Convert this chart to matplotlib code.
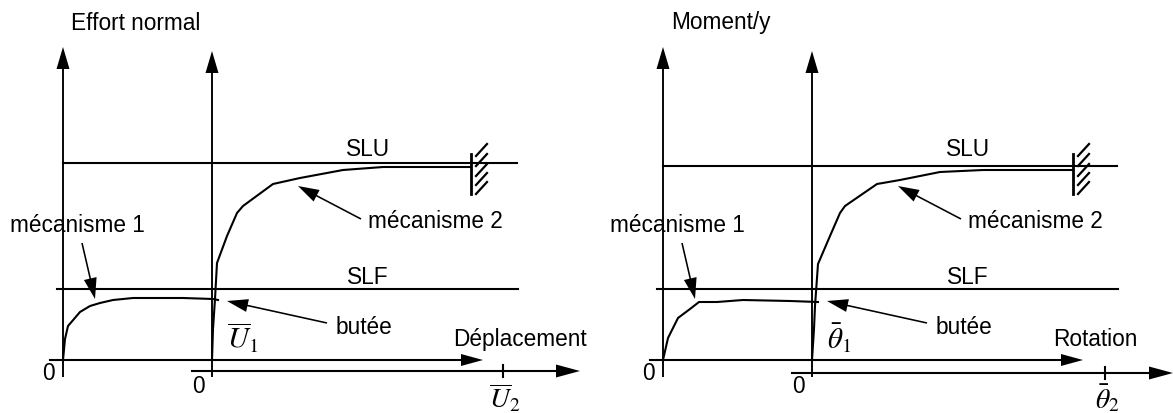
import matplotlib.pyplot as plt

plt.rcParams['font.family'] = ['Liberation Sans', 'DejaVu Sans']
plt.rcParams['mathtext.fontset'] = 'stix'

# curves (pixel units, y pointing down)
mec1_l_x = [63, 65, 68, 80, 90, 100, 113, 133, 183, 213, 218]
mec1_l_y = [361, 340, 327, 313, 307, 304, 301, 299, 299, 300, 301]
mec2_l_x = [212, 213, 215, 217, 227, 237, 243, 273, 300, 343, 383, 471]
mec2_l_y = [361, 330, 300, 264, 237, 214, 207, 185, 179, 171, 168, 168]

mec1_r_x = [663, 668, 678, 690, 699, 717, 743, 790, 818]
mec1_r_y = [361, 339, 319, 310, 303, 303, 301, 302, 303]
mec2_r_x = [812, 814, 815, 818, 830, 840, 845, 877, 900, 940, 983, 1073]
mec2_r_y = [361, 330, 307, 265, 237, 214, 207, 185, 181, 173, 171, 171]

y_titles = ['Effort normal', 'Moment/y']
x_titles = ['Déplacement', 'Rotation']
lab1 = [r'$\overline{U}_1$', r'$\bar{\theta}_1$']
lab2 = [r'$\overline{U}_2$', r'$\bar{\theta}_2$']

fig = plt.figure(figsize=(11.73, 4.14), dpi=100)
ax = fig.add_axes([0, 0, 1, 1])
ax.set_xlim(0, 1173)
ax.set_ylim(414, 0)
ax.axis('off')

LW = 1.5
FS = 16.3


def arrow(x1, y1, x2, y2, hw=13, hl=22, w=1.9):
    ax.arrow(x1, y1, x2 - x1, y2 - y1, width=w, head_width=hw, head_length=hl,
             length_includes_head=True, fc='black', ec='none')


def panel(i, dx, slu_y, ax2_y, x1_end, x2_end, tick_x, wall_x, m1, m2):
    # axes
    arrow(63 + dx, 378, 63 + dx, 48)
    arrow(212 + dx, 378, 212 + dx, 52)
    ax.plot([50 + dx, x1_end - 20], [361, 361], color='black', lw=LW)
    arrow(x1_end - 22, 361, x1_end, 361, hw=12)
    ax.plot([192 + dx, x2_end - 20], [ax2_y, ax2_y], color='black', lw=LW)
    arrow(x2_end - 24, ax2_y, x2_end, ax2_y, hw=13, hl=24)
    ax.plot([tick_x, tick_x], [ax2_y - 6, ax2_y + 6], color='black', lw=LW)

    # limits
    ax.plot([63 + dx, 517 + dx], [slu_y, slu_y], color='black', lw=LW)
    ax.plot([57 + dx, 518 + dx], [290, 290], color='black', lw=LW)
    ax.text(368 + dx, 150, 'SLU', fontsize=FS, ha='center', va='center')
    ax.text(368 + dx, 278, 'SLF', fontsize=FS, ha='center', va='center')

    # curves
    ax.plot(m1[0], m1[1], color='black', lw=LW)
    ax.plot(m2[0], m2[1], color='black', lw=LW)

    # wall with hatching
    ax.plot([wall_x, wall_x], [155, 195], color='black', lw=2)
    for yy in [157, 167, 177, 186, 195]:
        ax.plot([wall_x + 5, wall_x + 16], [yy, yy - 12], color='black', lw=1.6)

    # labels
    ax.text(71 + dx, 23, y_titles[i], fontsize=FS, ha='left', va='center')
    ax.text(x1_end - 30, 340, x_titles[i], fontsize=FS, ha='left', va='center')
    ax.text(48 + dx, 374, '0', fontsize=FS, ha='center', va='center')
    ax.text(198 + dx, 387, '0', fontsize=FS, ha='center', va='center')
    ax.text(227 + dx, 338, lab1[i], fontsize=21, ha='left', va='center')
    ax.text(tick_x + 2, 398, lab2[i], fontsize=20, ha='center', va='center')

    ax.text(10 + dx, 226, 'mécanisme 1', fontsize=FS, ha='left', va='center')
    arrow(82 + dx, 244, 95 + dx, 300, hw=13, hl=21, w=1.6)
    ax.text(368 + dx, 222, 'mécanisme 2', fontsize=FS, ha='left', va='center')
    arrow(361 + dx, 220, 298 + dx, 187, hw=13, hl=21, w=1.6)
    ax.text(336 + dx, 328, 'butée', fontsize=FS, ha='left', va='center')
    arrow(327 + dx, 324, 227 + dx, 302, hw=13, hl=21, w=1.6)


panel(0, 0, 164, 372, 483, 580, 503, 471,
      (mec1_l_x, mec1_l_y), (mec2_l_x, mec2_l_y))
panel(1, 600, 167, 374, 1083, 1173, 1105, 1073,
      (mec1_r_x, mec1_r_y), (mec2_r_x, mec2_r_y))

fig.savefig('out.png', dpi=100)
